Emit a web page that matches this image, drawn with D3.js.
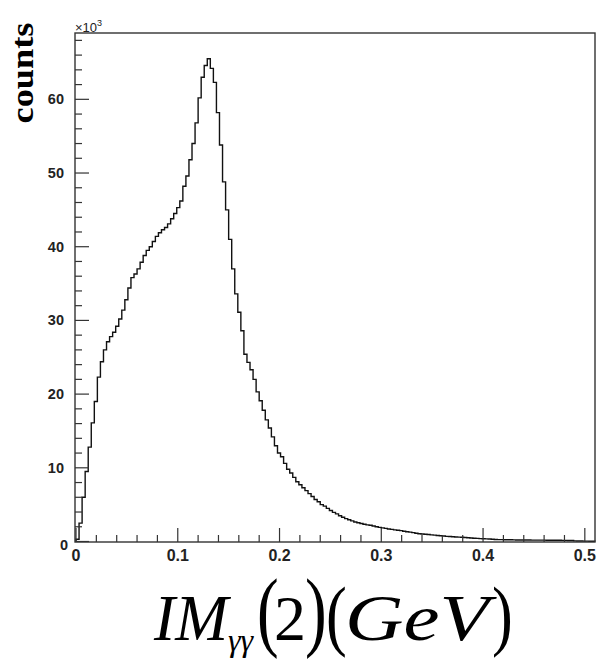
<!DOCTYPE html>
<html>
<head>
<meta charset="utf-8">
<script src="https://cdn.jsdelivr.net/npm/d3@7"></script>
<style>
  body { margin: 0; background: #fff; }
  svg { display: block; }
</style>
</head>
<body>
<script>
// histogram binning (GeV)
const xMin = 0, xMax = 0.51, binWidth = 0.003;
// counts per bin, in units of 10^3
const countsThousands = [
  0.3, 2.5, 6.0, 9.5, 12.8, 16.1, 19.0, 22.3, 24.4, 26.0,
  27.1, 27.8, 28.4, 29.2, 30.2, 31.4, 32.8, 34.4, 35.8, 36.3,
  37.0, 37.9, 38.8, 39.5, 40.0, 40.7, 41.4, 41.9, 42.3, 42.6,
  43.1, 43.8, 44.5, 45.3, 46.2, 48.2, 49.6, 51.8, 54.0, 56.8,
  60.2, 63.0, 64.6, 65.5, 64.2, 62.3, 58.2, 53.8, 48.8, 45.0,
  41.0, 37.0, 33.6, 31.1, 28.6, 25.4, 24.3, 23.3, 22.0, 20.3,
  19.1, 17.8, 16.5, 15.4, 14.2, 13.0, 12.0, 11.5, 10.6, 9.8,
  9.3, 8.7, 8.1, 7.7, 7.3, 6.9, 6.5, 6.1, 5.7, 5.4,
  5.0, 4.8, 4.5, 4.2, 3.95, 3.75, 3.5, 3.3, 3.1, 2.95,
  2.8, 2.65, 2.55, 2.45, 2.35, 2.25, 2.2, 2.1, 2.0, 1.92,
  1.85, 1.78, 1.7, 1.65, 1.58, 1.52, 1.48, 1.4, 1.33, 1.27,
  1.2, 1.12, 1.05, 1.02, 0.99, 0.95, 0.9, 0.86, 0.82, 0.78,
  0.74, 0.7, 0.68, 0.65, 0.62, 0.6, 0.57, 0.54, 0.51, 0.48,
  0.45, 0.42, 0.39, 0.37, 0.35, 0.33, 0.3, 0.28, 0.26, 0.25,
  0.24, 0.23, 0.23, 0.22, 0.21, 0.21, 0.2, 0.2, 0.2, 0.19,
  0.19, 0.18, 0.18, 0.18, 0.17, 0.17, 0.17, 0.16, 0.16, 0.15,
  0.15, 0.14, 0.14, 0.08, 0.06, 0.06, 0.05, 0.05, 0.04, 0.04
];
const xTickValues = [0, 0.1, 0.2, 0.3, 0.4, 0.5];
const xTickLabels = ['0', '0.1', '0.2', '0.3', '0.4', '0.5'];
const yTickValues = [0, 10, 20, 30, 40, 50, 60];
const yTickLabels = ['0', '10', '20', '30', '40', '50', '60'];
const yMaxThousands = 69;

const W = 597, H = 659;
const frame = {left: 75, right: 595, top: 33, bottom: 542};

const x = d3.scaleLinear().domain([xMin, xMax]).range([76, frame.right]);
const y = d3.scaleLinear().domain([0, yMaxThousands]).range([541.5, frame.top]);

const svg = d3.select('body').append('svg')
  .attr('width', W)
  .attr('height', H)
  .attr('xmlns', 'http://www.w3.org/2000/svg');

svg.append('rect').attr('width', W).attr('height', H).attr('fill', '#fff');

// histogram outline
const pts = [[xMin, 0]];
countsThousands.forEach((c, i) => {
  pts.push([xMin + i * binWidth, c]);
  pts.push([xMin + (i + 1) * binWidth, c]);
});
pts.push([xMin + countsThousands.length * binWidth, 0]);

const line = d3.line().x(d => x(d[0])).y(d => y(d[1]));
svg.append('path')
  .attr('d', line(pts))
  .attr('fill', 'none')
  .attr('stroke', '#111')
  .attr('stroke-width', 1.4);

// frame
svg.append('rect')
  .attr('x', frame.left).attr('y', frame.top)
  .attr('width', frame.right - frame.left)
  .attr('height', frame.bottom - frame.top)
  .attr('fill', 'none')
  .attr('stroke', '#333')
  .attr('stroke-width', 1.4);

// x axis ticks (pointing up, inside)
const xMinor = d3.range(0, 26).map(i => i * 0.02);
svg.append('g').selectAll('line').data(xMinor).enter().append('line')
  .attr('x1', d => x(d)).attr('x2', d => x(d))
  .attr('y1', frame.bottom)
  .attr('y2', (d, i) => frame.bottom - (i % 5 === 0 ? 14 : 7))
  .attr('stroke', '#333').attr('stroke-width', 1.2);

svg.append('g').selectAll('text').data(xTickValues).enter().append('text')
  .attr('x', d => x(d))
  .attr('y', 561)
  .attr('text-anchor', 'middle')
  .attr('font-family', 'Liberation Sans, Arial, sans-serif')
  .attr('font-weight', 'bold')
  .attr('font-size', 16)
  .attr('fill', '#222')
  .text((d, i) => xTickLabels[i]);

// y axis ticks (pointing right, inside)
const yMinor = d3.range(0, 35).map(i => i * 2).filter(v => v < yMaxThousands);
svg.append('g').selectAll('line').data(yMinor).enter().append('line')
  .attr('x1', frame.left)
  .attr('x2', d => frame.left + (d % 10 === 0 ? 14 : 7))
  .attr('y1', d => y(d)).attr('y2', d => y(d))
  .attr('stroke', '#333').attr('stroke-width', 1.2);

svg.append('g').selectAll('text').data(yTickValues).enter().append('text')
  .attr('x', d => d === 0 ? 68 : 64)
  .attr('y', d => y(d) + 5 + (d === 0 ? 3 : 0))
  .attr('text-anchor', 'end')
  .attr('font-family', 'Liberation Sans, Arial, sans-serif')
  .attr('font-weight', 'bold')
  .attr('font-size', 14.5)
  .attr('fill', '#222')
  .text((d, i) => yTickLabels[i]);

// x10^3 multiplier
const mult = svg.append('text')
  .attr('x', 75).attr('y', 32)
  .attr('font-family', 'Liberation Sans, Arial, sans-serif')
  .attr('font-size', 13)
  .attr('fill', '#222');
mult.append('tspan').text('\u00d710');
mult.append('tspan').attr('dy', -6).attr('font-size', 9).text('3');

// y title
svg.append('text')
  .attr('transform', 'translate(33,73) rotate(-90)')
  .attr('text-anchor', 'middle')
  .attr('font-family', 'Liberation Serif, Times New Roman, serif')
  .attr('font-weight', 'bold')
  .attr('font-size', 31)
  .attr('textLength', 101)
  .attr('lengthAdjust', 'spacingAndGlyphs')
  .attr('fill', '#000')
  .text('counts');

// x title: IM_{γγ}(2)(GeV)
const serif = 'Liberation Serif, Times New Roman, serif';
const title = svg.append('g').attr('fill', '#000').attr('font-family', serif);
title.append('text').attr('x', 154).attr('y', 640)
  .attr('font-size', 66).attr('font-style', 'italic')
  .attr('textLength', 74).attr('lengthAdjust', 'spacingAndGlyphs')
  .text('IM');
title.append('text').attr('x', 228).attr('y', 651)
  .attr('font-size', 32).attr('font-style', 'italic')
  .text('\u03b3\u03b3');
title.append('text').attr('transform', 'translate(257,640) scale(0.74,1)')
  .attr('font-size', 88).text('(');
title.append('text').attr('x', 274).attr('y', 640)
  .attr('font-size', 64).text('2');
title.append('text').attr('transform', 'translate(305,640) scale(0.74,1)')
  .attr('font-size', 88).text(')');
title.append('text').attr('transform', 'translate(326,641) scale(0.8,1)')
  .attr('font-size', 78).text('(');
title.append('text').attr('x', 345).attr('y', 640)
  .attr('font-size', 66).attr('font-style', 'italic')
  .attr('textLength', 144).attr('lengthAdjust', 'spacingAndGlyphs')
  .text('GeV');
title.append('text').attr('transform', 'translate(492,641) scale(0.8,1)')
  .attr('font-size', 78).text(')');
</script>
</body>
</html>
